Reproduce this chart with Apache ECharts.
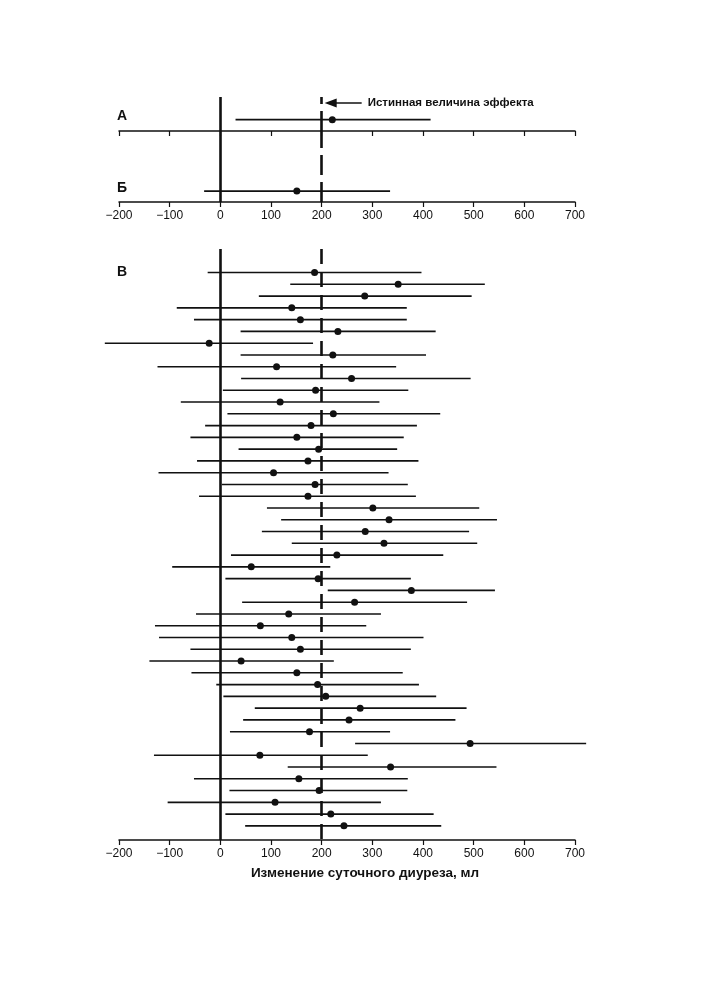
<!DOCTYPE html>
<html>
<head>
<meta charset="utf-8">
<script src="https://cdn.jsdelivr.net/npm/echarts@6/dist/echarts.min.js"></script>
<style>
  html, body { margin: 0; padding: 0; background: #fff; }
  #main { width: 705px; height: 1000px; }
</style>
</head>
<body>
<div id="main"></div>
<script>
// panel А and Б: one interval each [lo, mean, hi]
const rowA = [30, 221, 415];
const rowB = [-32, 151, 335];

// panel В: 48 samples, confidence limits and means
const loV = [-25, 138, 76, -86, -52, 40, -228, 40, -124, 41, 5, -78,
  14, -30, -59, 36, -46, -122, 3, -42, 92, 120, 82, 141,
  21, -95, 10, 212, 43, -48, -129, -121, -59, -140, -57, -8,
  6, 68, 45, 19, 266, -131, 133, -52, 18, -104, 10, 49];
const meanV = [186, 351, 285, 141, 158, 232, -22, 222, 111, 259, 188, 118,
  223, 179, 151, 194, 173, 105, 187, 173, 301, 333, 286, 323,
  230, 61, 193, 377, 265, 135, 79, 141, 158, 41, 151, 192,
  208, 276, 254, 176, 493, 78, 336, 155, 195, 108, 218, 244];
const hiV = [397, 522, 496, 368, 368, 425, 183, 406, 347, 494, 371, 314,
  434, 388, 362, 349, 391, 332, 370, 386, 511, 546, 491, 507,
  440, 217, 376, 542, 487, 317, 288, 401, 376, 224, 360, 392,
  426, 486, 464, 335, 722, 291, 545, 370, 369, 317, 421, 436];

const trueEffect = 200;
const xTicks = { min: -200, max: 700, interval: 100 };
const axisTitle = 'Изменение суточного диуреза, мл';
const font = 'Liberation Sans';
const ink = '#111';

let myChart = echarts.init(document.getElementById('main'));

function xAxis(grid, labels) {
  return {
    type: 'value',
    gridIndex: grid,
    position: 'bottom',
    min: xTicks.min,
    max: xTicks.max,
    interval: xTicks.interval,
    splitLine: { show: false },
    axisLine: { show: true, onZero: false, lineStyle: { color: ink, width: 1.5 } },
    axisTick: { show: true, inside: false, length: 5, lineStyle: { color: ink, width: 1.2 } },
    axisLabel: {
      show: labels,
      margin: 8,
      color: ink,
      fontFamily: font,
      fontSize: 12,
      formatter: v => String(v).replace('-', '\u2212')
    }
  };
}

function yAxis(grid, min, max, inverse) {
  return { type: 'value', gridIndex: grid, min: min, max: max, inverse: inverse, show: false };
}

function barSeries(grid, data, dash) {
  return {
    type: 'custom',
    xAxisIndex: grid,
    yAxisIndex: grid,
    silent: true,
    data: data,
    renderItem: function (params, api) {
      const p1 = api.coord([api.value(0), api.value(2)]);
      const p2 = api.coord([api.value(1), api.value(2)]);
      return {
        type: 'line',
        shape: { x1: p1[0], y1: p1[1], x2: p2[0], y2: p2[1] },
        style: { stroke: ink, lineWidth: 1.6 }
      };
    },
    markLine: {
      silent: true,
      symbol: 'none',
      label: { show: false },
      animation: false,
      data: [
        { xAxis: 0, lineStyle: { color: ink, width: 2.6, type: 'solid', opacity: 1 } },
        { xAxis: trueEffect, lineStyle: { color: ink, width: 2.6, type: dash, opacity: 1 } }
      ]
    }
  };
}

function dotSeries(grid, data) {
  return {
    type: 'scatter',
    xAxisIndex: grid,
    yAxisIndex: grid,
    silent: true,
    symbolSize: 7,
    itemStyle: { color: ink, opacity: 1 },
    data: data,
    z: 5
  };
}

const barsV = loV.map((lo, i) => [lo, hiV[i], i]);
const dotsV = meanV.map((m, i) => [m, i]);

let option = {
  animation: false,
  backgroundColor: '#fff',
  grid: [
    { left: 119, width: 456, top: 97, height: 34 },
    { left: 119, width: 456, top: 131, height: 71 },
    { left: 119, width: 456, top: 249, height: 591 }
  ],
  xAxis: [xAxis(0, false), xAxis(1, true), xAxis(2, true)],
  yAxis: [yAxis(0, -0.5, 1, false), yAxis(1, -0.2, 1.1, false), yAxis(2, -2, 48.2, true)],
  series: [
    barSeries(0, [[rowA[0], rowA[2], 0]], [20, 7]),
    dotSeries(0, [[rowA[1], 0]]),
    barSeries(1, [[rowB[0], rowB[2], 0]], [20, 7]),
    dotSeries(1, [[rowB[1], 0]]),
    barSeries(2, barsV, [15, 8]),
    dotSeries(2, dotsV)
  ]
};

myChart.setOption(option);

// labels and the "true effect" arrow
const xTrue = myChart.convertToPixel({ xAxisIndex: 0 }, trueEffect);
const arrowY = 103;
myChart.setOption({
  graphic: [
    { type: 'text', left: 117, top: 109, style: { text: 'А', font: 'bold 14px ' + font, fill: ink } },
    { type: 'text', left: 117, top: 181, style: { text: 'Б', font: 'bold 14px ' + font, fill: ink } },
    { type: 'text', left: 117, top: 265, style: { text: 'В', font: 'bold 14px ' + font, fill: ink } },
    {
      type: 'line',
      shape: { x1: xTrue + 12, y1: arrowY, x2: xTrue + 40, y2: arrowY },
      style: { stroke: ink, lineWidth: 1.5 }
    },
    {
      type: 'polygon',
      shape: { points: [[xTrue + 3, arrowY], [xTrue + 15, arrowY - 4.5], [xTrue + 15, arrowY + 4.5]] },
      style: { fill: ink }
    },
    {
      type: 'text',
      x: xTrue + 46,
      y: arrowY,
      style: { text: 'Истинная величина эффекта', font: 'bold 11.5px ' + font, fill: ink, verticalAlign: 'middle' }
    },
    {
      type: 'text',
      x: 365,
      y: 873,
      style: { text: axisTitle, font: 'bold 13.5px ' + font, fill: ink, align: 'center', verticalAlign: 'middle' }
    }
  ]
});
</script>
</body>
</html>
